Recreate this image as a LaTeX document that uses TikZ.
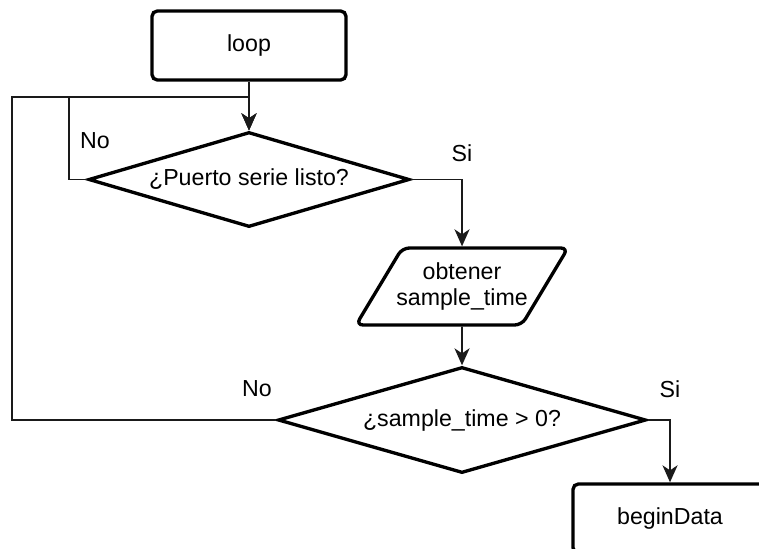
\documentclass[tikz,border=0pt]{standalone}
\usepackage{fontspec}
\setmainfont{Liberation Sans}
\usetikzlibrary{
  arrows.meta,
  positioning,
  shapes.geometric
}
\definecolor{ink}{HTML}{000000}
\definecolor{wire}{HTML}{1A1A1A}
\tikzset{
  flow/.style={
    -{Stealth[length=3.4mm, width=3mm, inset=1mm]},
    line width=1.1pt,
    draw=wire
  },
  arrowlabel/.style={
    inner sep=1pt
  },
  process/.style={
    draw=ink,
    fill=white,
    line width=1.9pt,
    rounded corners=3pt,
    minimum width=3.88cm,
    minimum height=1.38cm,
    align=center
  },
  decision/.style={
    diamond,
    aspect=3.4,
    draw=ink,
    fill=white,
    line width=1.9pt,
    inner sep=0pt,
    align=center
  },
  inout/.style={
    trapezium,
    trapezium left angle=59,
    trapezium right angle=121,
    trapezium stretches body=true,
    draw=ink,
    fill=white,
    line width=1.9pt,
    rounded corners=4pt,
    inner xsep=-0.12cm,
    inner ysep=0.29cm,
    minimum width=4.2cm,
    minimum height=1.54cm,
    align=center
  }
}

\begin{document}
\begin{tikzpicture}[x=0.02cm, y=-0.02cm,
    font=\fontsize{13.2}{15}\selectfont]
  \useasboundingbox (0,0) rectangle (759,548);
  \clip (0,0) rectangle (759,548);

  % boxes
  \node[process] (loop) at (249,45.5) {loop};
  \node[decision, minimum width=6.42cm, minimum height=1.9cm]
    (puerto) at (249,179.5) {¿Puerto serie listo?};
  \node[inout] (obtener) at (462,286.5) {obtener\\sample\_time};
  \node[decision, minimum width=7.36cm, minimum height=2.12cm]
    (sample) at (462,420) {¿sample\_time > 0?};
  \node[process] (begindata) at (670,518.5) {beginData};

  % bends
  \coordinate (join) at (249,97);
  \coordinate (noturn) at (69,97);
  \coordinate (outer) at (12,97);

  % labels
  \node[arrowlabel] (nopuerto) at (95,141) {No};
  \node[arrowlabel] (sipuerto) at (462,153) {Si};
  \node[arrowlabel] (nosample) at (257,389) {No};
  \node[arrowlabel] (sisample) at (670,389) {Si};

  \draw[flow] (loop) -- (puerto);
  \draw[flow] (puerto.west) -| (noturn) -- (join) -- (puerto.north);
  \draw[flow] (puerto.east) -| (obtener.north);
  \draw[flow] (obtener) -- (sample);
  \draw[flow] (sample.west) -| (outer) -- (join) -- (puerto.north);
  \draw[flow] (sample.east) -| (begindata.north);
\end{tikzpicture}
\end{document}
